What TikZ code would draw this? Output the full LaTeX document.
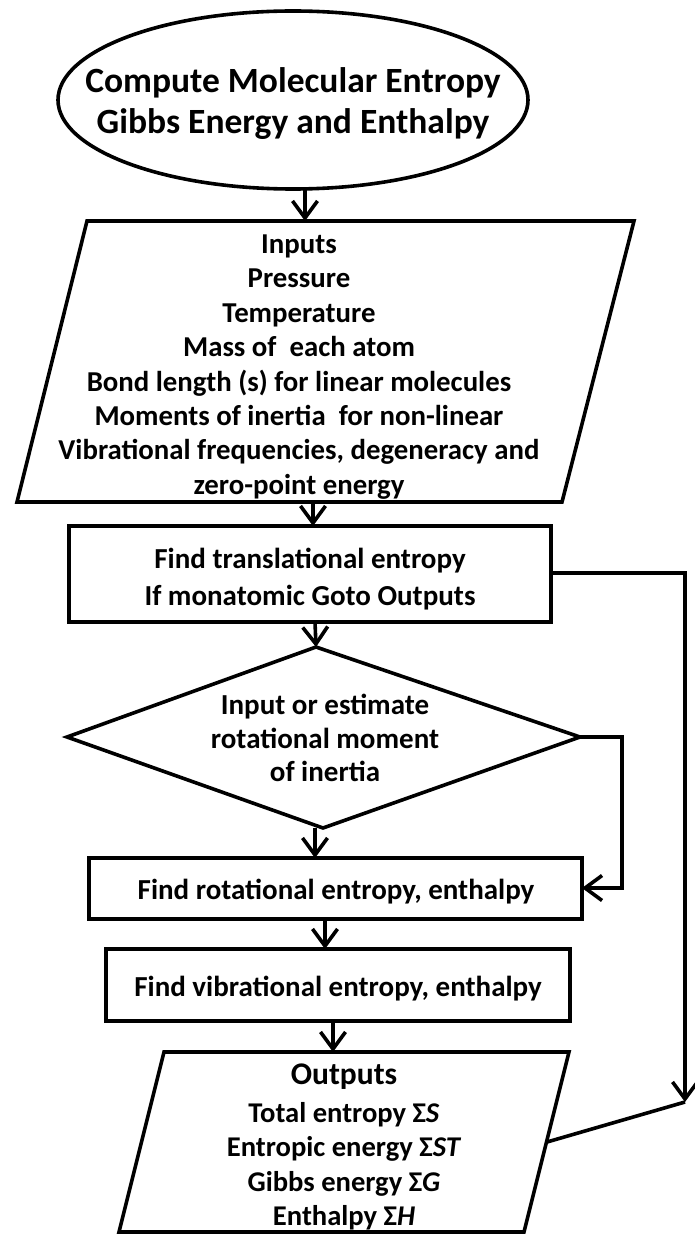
\documentclass[tikz,border=0pt]{standalone}
\usepackage{fontspec}
\setmainfont{Carlito}
\usetikzlibrary{arrows.meta,shapes.geometric}
\begin{document}
\begin{tikzpicture}[x=1pt,y=-1pt,line width=3.6pt,line join=miter,
  box/.style={draw,rectangle,inner sep=0pt},
  txt/.style={align=center,inner sep=0pt,font=\bfseries\fontsize{28.8}{34.4}\selectfont},
  bigtxt/.style={align=center,inner sep=0pt,font=\bfseries\fontsize{35.5}{41}\selectfont},
  arr/.style={-{Straight Barb[length=17pt,width=25pt]}}]
\useasboundingbox (0,0) rectangle (694,1246);
% start ellipse
\node[draw,ellipse,minimum width=470pt,minimum height=178pt,inner sep=0pt] (start) at (293,100) {};
\node[bigtxt] (starttxt) at (293,104) {Compute Molecular Entropy\\Gibbs Energy and Enthalpy};
% inputs parallelogram
\coordinate (i1) at (87,221); \coordinate (i2) at (634,221);
\coordinate (i3) at (562,502); \coordinate (i4) at (17,502);
\draw (i1) -- (i2) -- (i3) -- (i4) -- cycle;
\node[txt] (inp) at (299,367) {Inputs\\Pressure\\Temperature\\Mass of\ \ each atom\\Bond length (s) for linear molecules\\Moments of inertia\ \ for non-linear\\Vibrational frequencies, degeneracy and\\zero-point energy};
% translational box
\node[box,minimum width=482pt,minimum height=96pt] (trans) at (310,574) {};
\node[txt,font=\bfseries\fontsize{29}{37}\selectfont] (transtxt) at (310,579) {Find translational entropy\\If monatomic Goto Outputs};
% diamond
\coordinate (dT) at (316,647); \coordinate (dR) at (580,737);
\coordinate (dB) at (323,828); \coordinate (dL) at (67,737);
\draw (dT) -- (dR) -- (dB) -- (dL) -- cycle;
\node[txt,font=\bfseries\fontsize{29}{33.5}\selectfont] (dia) at (325,738) {Input or estimate\\rotational moment\\of inertia};
% rotational box
\node[box,minimum width=493pt,minimum height=61pt] (rot) at (335.5,888.5) {};
\node[txt,font=\bfseries\fontsize{29}{34}\selectfont] (rottxt) at (336,892) {Find rotational entropy, enthalpy};
% vibrational box
\node[box,minimum width=464pt,minimum height=72pt] (vib) at (338,985) {};
\node[txt,font=\bfseries\fontsize{29}{34}\selectfont] (vibtxt) at (338,989) {Find vibrational entropy, enthalpy};
% outputs parallelogram
\coordinate (o1) at (164,1052); \coordinate (o2) at (569,1052);
\coordinate (o3) at (524,1232); \coordinate (o4) at (119,1232);
\draw (o1) -- (o2) -- (o3) -- (o4) -- cycle;
\node[txt,font=\bfseries\fontsize{31.5}{36}\selectfont] (outhead) at (344,1077) {Outputs};
\node[txt,font=\bfseries\fontsize{28.6}{34.5}\selectfont] (outtxt) at (344,1166) {Total entropy Σ\textit{S}\\Entropic energy Σ\textit{ST}\\Gibbs energy Σ\textit{G}\\Enthalpy Σ\textit{H}};
% connector anchor points
\coordinate (eB) at (305,189);  \coordinate (iT) at (305,221);
\coordinate (iB) at (313,502);  \coordinate (tT) at (313,526);
\coordinate (tB) at (315,622);
\coordinate (dBa) at (315,828); \coordinate (rT) at (315,858);
\coordinate (rB) at (325,919);  \coordinate (vT) at (325,949);
\coordinate (vB) at (333,1021); \coordinate (oT) at (333,1052);
\coordinate (tR) at (551,573);  \coordinate (farR) at (685,573);
\coordinate (farB) at (685,1102); \coordinate (oR) at (547,1142);
\coordinate (dR2) at (622,737); \coordinate (dR3) at (622,888);
\coordinate (rR) at (582,888);
% connectors
\draw[arr] (eB) -- (iT);
\draw[arr] (iB) -- (tT);
\draw[arr] (tB) -- (dT);
\draw[arr] (dBa) -- (rT);
\draw[arr] (rB) -- (vT);
\draw[arr] (vB) -- (oT);
\draw[arr] (tR) -- (farR) -- (farB);
\draw (farB) -- (oR);
\draw[arr] (dR) -- (dR2) -- (dR3) -- (rR);
\end{tikzpicture}
\end{document}
